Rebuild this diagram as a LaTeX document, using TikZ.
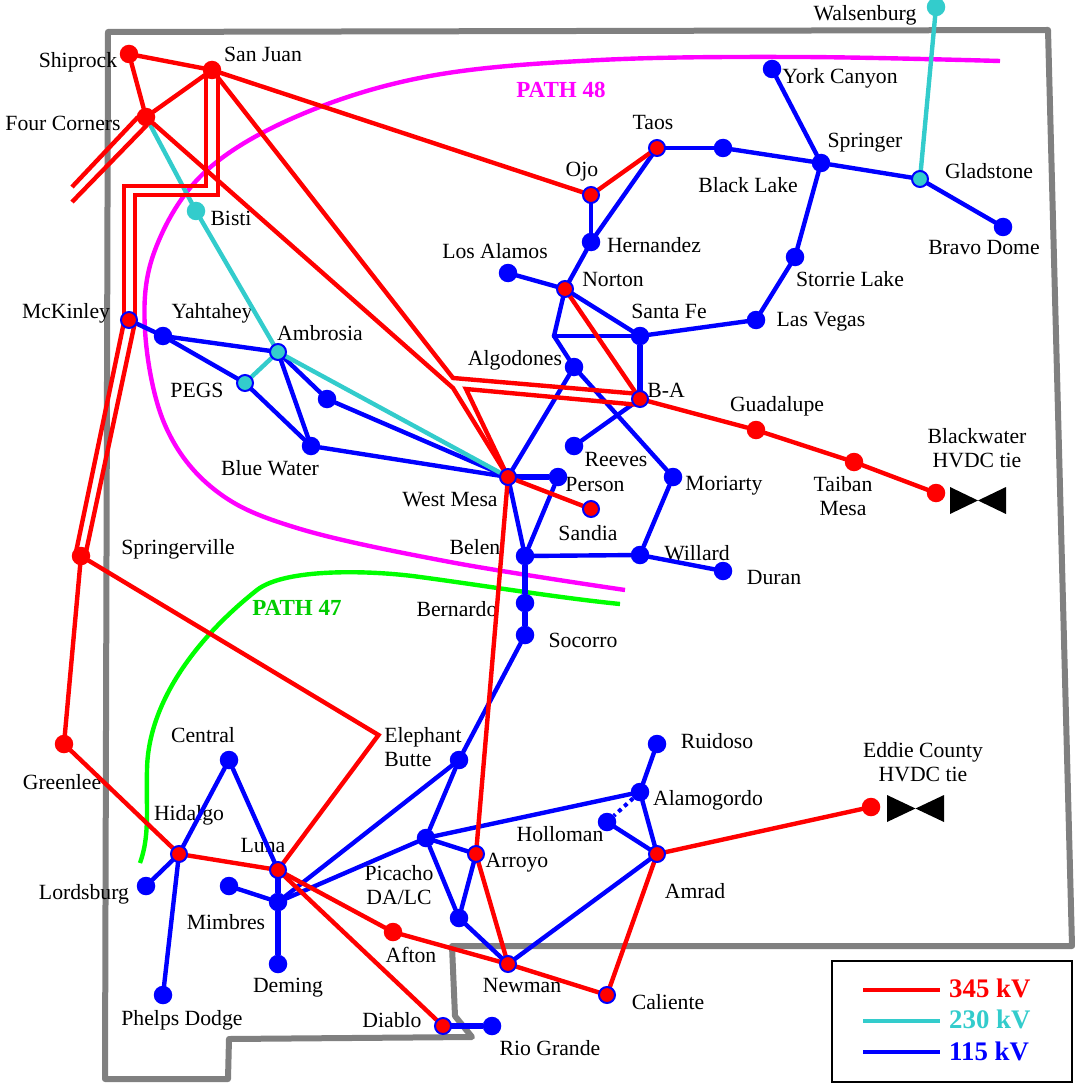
\documentclass[tikz,border=0pt]{standalone}
\usepackage{fontspec}
\setmainfont{Liberation Serif}
\pgfdeclarelayer{under}
\pgfdeclarelayer{labels}
\pgfdeclarelayer{edges}
\pgfsetlayers{under,labels,edges,main}
\definecolor{teal230}{RGB}{51,204,204}
\definecolor{bordergray}{RGB}{128,128,128}
\definecolor{pathmag}{RGB}{255,0,255}
\definecolor{pathgrn}{RGB}{0,255,0}
\definecolor{pathgrntxt}{RGB}{0,204,0}
\tikzset{
  x=1pt,y=-1pt,
  txt/.style={font=\fontsize{21.7}{24}\selectfont,text=black,inner sep=0pt,align=center},
  legtxt/.style={font=\fontsize{26.8}{28}\selectfont\bfseries,inner sep=0pt,anchor=west},
  pathtxt/.style={font=\fontsize{23}{25}\selectfont\bfseries,inner sep=0pt},
  st/.style={circle,inner sep=0pt,outer sep=0pt,minimum size=#1},
  rnode/.style={st=18.5pt,fill=red},
  bnode/.style={st=18.5pt,fill=blue},
  cnode/.style={st=18.5pt,fill=teal230},
  rbnode/.style={st=16pt,fill=red,draw=blue,line width=2pt},
  cbnode/.style={st=16pt,fill=teal230,draw=blue,line width=2pt},
  rl/.style={draw=red,line width=4.4pt,line cap=round,line join=miter},
  rfree/.style={draw=red,line width=4.4pt,line join=miter},
  tl/.style={draw=teal230,line width=4.4pt,line cap=round},
  bl/.style={draw=blue,line width=4.4pt,line cap=round,line join=round},
  blt/.style={draw=blue,line width=5.5pt},
  bdot/.style={draw=blue,line width=4pt,dash pattern=on 4pt off 4pt},
  border/.style={draw=bordergray,line width=6pt,line join=round},
  curveM/.style={draw=pathmag,line width=4.4pt},
  curveG/.style={draw=pathgrn,line width=4.4pt},
  bowtie/.style={fill=black,draw=none},
  legbox/.style={draw=black,line width=2pt,fill=white},
}
\begin{document}
\begin{tikzpicture}
\useasboundingbox (0,0) rectangle (1074,1083);

% stations
\node[rnode] (shiprock) at (129,54) {};
\node[rnode] (sanjuan) at (212,70) {};
\node[rnode] (fourc) at (146,117) {};
\node[cnode] (bisti) at (196,211) {};
\node[rbnode] (mckinley) at (129,320) {};
\node[bnode] (yahtahey) at (163,336) {};
\node[cbnode] (ambrosia) at (278,352) {};
\node[cbnode] (pegs) at (245,383) {};
\node[bnode] (unn) at (327,399) {};
\node[bnode] (bluewater) at (311,446) {};
\node[rbnode] (westmesa) at (508,477) {};
\node[bnode] (person) at (558,477) {};
\node[rbnode] (sandia) at (591,509) {};
\node[bnode] (belen) at (525,556) {};
\node[bnode] (bernardo) at (525,603) {};
\node[bnode] (socorro) at (525,635) {};
\node[rnode] (springerville) at (81,556) {};
\node[rnode] (greenlee) at (64,744) {};
\node[rbnode] (hidalgo) at (179,854) {};
\node[bnode] (lordsburg) at (146,886) {};
\node[bnode] (phelps) at (163,995) {};
\node[bnode] (central) at (229,760) {};
\node[rbnode] (luna) at (278,870) {};
\node[bnode] (mimbres) at (229,886) {};
\node[bnode] (mimjct) at (278,902) {};
\node[bnode] (deming) at (278,964) {};
\node[bnode] (elephant) at (459,760) {};
\node[bnode] (picacho) at (426,838) {};
\node[rbnode] (arroyo) at (476,854) {};
\node[bnode] (dalc) at (459,918) {};
\node[rnode] (afton) at (393,932) {};
\node[rbnode] (newman) at (508,964) {};
\node[rbnode] (caliente) at (607,995) {};
\node[rbnode] (diablo) at (443,1026) {};
\node[bnode] (riogrande) at (492,1026) {};
\node[rbnode] (amrad) at (657,854) {};
\node[bnode] (holloman) at (607,822) {};
\node[bnode] (alamogordo) at (640,792) {};
\node[bnode] (ruidoso) at (657,744) {};
\node[rnode] (eddie) at (871,807) {};
\node[rbnode] (ojo) at (591,195) {};
\node[rbnode] (taos) at (657,148) {};
\node[bnode] (blacklake) at (723,148) {};
\node[bnode] (springer) at (821,163) {};
\node[cbnode] (gladstone) at (920,179) {};
\node[bnode] (bravo) at (1003,227) {};
\node[bnode] (york) at (772,69) {};
\node[cnode] (walsenburg) at (936,7) {};
\node[bnode] (hernandez) at (591,242) {};
\node[bnode] (losalamos) at (508,273) {};
\node[rbnode] (norton) at (565,289) {};
\node[bnode] (santafe) at (640,336) {};
\node[bnode] (lasvegas) at (756,320) {};
\node[bnode] (storrie) at (795,257) {};
\node[bnode] (algodones) at (574,367) {};
\node[rbnode] (ba) at (640,399) {};
\node[bnode] (reeves) at (574,446) {};
\node[bnode] (moriarty) at (673,477) {};
\node[bnode] (willard) at (640,555) {};
\node[bnode] (duran) at (723,571) {};
\node[rnode] (guadalupe) at (756,430) {};
\node[rnode] (taiban) at (854,462) {};
\node[rnode] (blackwater) at (936,493) {};

% bends and free ends
\coordinate (sjL) at (206,70);
\coordinate (sjR) at (218,70);
\coordinate (b1) at (206,186);
\coordinate (b2) at (124,186);
\coordinate (b3) at (124,320);
\coordinate (b4) at (218,195);
\coordinate (b5) at (135,195);
\coordinate (b6) at (135,320);
\coordinate (mkL) at (124,322);
\coordinate (mkR) at (135,322);
\coordinate (spL) at (76,552);
\coordinate (spR) at (86,552);
\coordinate (fcA) at (72,187);
\coordinate (fcB) at (72,202);
\coordinate (fcC) at (147,125);
\coordinate (fcD) at (138,117);
\coordinate (ebend) at (378.5,735);
\coordinate (wmTop) at (453,378);
\coordinate (wmMid) at (453,388);
\coordinate (wmIn) at (466,389);
\coordinate (baA) at (640,394);
\coordinate (baB) at (640,405);
\coordinate (jct) at (554,336);

\begin{pgfonlayer}{under}
\draw[border] (108,32) -- (1048,30) -- (1072,946) -- (452,946) -- (455,1016) -- (472,1037) -- (229,1039) -- (228,1079) -- (105,1079) -- cycle;
\draw[curveM] plot[smooth,tension=0.6] coordinates {(1000,61) (800,57) (600,60) (430,76) (300,115) (205,172) (155,250) (145,330) (165,425) (215,490) (297,528) (450,562) (625,590)};
\draw[curveG] (140,863) .. controls (150,835) and (146,810) .. (147,770) .. controls (148,700) and (200,635) .. (257,590) .. controls (285,568) and (370,570) .. (420,577) .. controls (480,585) and (560,598) .. (620,604);
\end{pgfonlayer}

\begin{pgfonlayer}{labels}
\node[txt] (lWalsenburg) at (865,15) {Walsenburg};
\node[txt] (lYork) at (840,78) {York Canyon};
\node[txt] (lSpringer) at (865,143) {Springer};
\node[txt] (lTaos) at (653,123) {Taos};
\node[txt] (lOjo) at (582,172) {Ojo};
\node[txt] (lBlackLake) at (748,185) {Black Lake};
\node[txt] (lGladstone) at (989,171) {Gladstone};
\node[txt] (lBravo) at (984,248) {Bravo Dome};
\node[txt] (lHernandez) at (654,245) {Hernandez};
\node[txt] (lLosAlamos) at (495,251) {Los Alamos};
\node[txt] (lNorton) at (613,280) {Norton};
\node[txt] (lSantaFe) at (669,311) {Santa Fe};
\node[txt] (lStorrie) at (850,279) {Storrie Lake};
\node[txt] (lLasVegas) at (821,322) {Las Vegas};
\node[txt] (lAlgodones) at (515,360) {Algodones};
\node[txt] (lBA) at (666,390) {B-A};
\node[txt] (lGuadalupe) at (777,406) {Guadalupe};
\node[txt] (lBlackwater) at (977,448) {Blackwater\\HVDC tie};
\node[txt] (lReeves) at (616,459) {Reeves};
\node[txt] (lTaiban) at (843,496) {Taiban\\Mesa};
\node[txt] (lMoriarty) at (724,486) {Moriarty};
\node[txt] (lPerson) at (595,484) {Person};
\node[txt] (lWestMesa) at (450,500) {West Mesa};
\node[txt] (lSandia) at (588,533) {Sandia};
\node[txt] (lBelen) at (475,547) {Belen};
\node[txt] (lWillard) at (697,553) {Willard};
\node[txt] (lDuran) at (774,577) {Duran};
\node[txt] (lBernardo) at (457,609) {Bernardo};
\node[txt] (lSocorro) at (583,640) {Socorro};
\node[txt] (lSpringerville) at (178,549) {Springerville};
\node[txt] (lMcKinley) at (66,313) {McKinley};
\node[txt] (lYahtahey) at (212,313) {Yahtahey};
\node[txt] (lAmbrosia) at (320,333) {Ambrosia};
\node[txt] (lPEGS) at (197,390) {PEGS};
\node[txt] (lBlueWater) at (270,468) {Blue Water};
\node[txt] (lShiprock) at (78,62) {Shiprock};
\node[txt] (lSanJuan) at (263,54) {San Juan};
\node[txt] (lFourC) at (63,123) {Four Corners};
\node[txt] (lBisti) at (231,218) {Bisti};
\node[txt] (lCentral) at (203,735) {Central};
\node[txt,align=left] (lElephant) at (423,747) {Elephant\\Butte};
\node[txt] (lRuidoso) at (717,741) {Ruidoso};
\node[txt] (lAlamogordo) at (708,800) {Alamogordo};
\node[txt] (lHolloman) at (560,834) {Holloman};
\node[txt] (lArroyo) at (517,863) {Arroyo};
\node[txt] (lAmrad) at (695,891) {Amrad};
\node[txt] (lPicacho) at (399,885) {Picacho\\DA/LC};
\node[txt] (lHidalgo) at (189,815) {Hidalgo};
\node[txt] (lLuna) at (263,845) {Luna};
\node[txt] (lLordsburg) at (84,894) {Lordsburg};
\node[txt] (lGreenlee) at (62,782) {Greenlee};
\node[txt] (lMimbres) at (226,922) {Mimbres};
\node[txt] (lDeming) at (288,988) {Deming};
\node[txt] (lPhelps) at (182,1020) {Phelps Dodge};
\node[txt] (lAfton) at (411,955) {Afton};
\node[txt] (lNewman) at (522,985) {Newman};
\node[txt] (lCaliente) at (668,1002) {Caliente};
\node[txt] (lDiablo) at (392,1020) {Diablo};
\node[txt] (lRioGrande) at (550,1048) {Rio Grande};
\node[txt] (lEddie) at (923,762) {Eddie County\\HVDC tie};
\node[pathtxt,text=pathmag] (lP48) at (561,90) {PATH 48};
\node[pathtxt,text=pathgrntxt] (lP47) at (297,608) {PATH 47};
\end{pgfonlayer}

\begin{pgfonlayer}{edges}
% 115 kV
\draw[bl] (mckinley) -- (yahtahey);
\draw[bl] (yahtahey) -- (ambrosia);
\draw[bl] (yahtahey) -- (pegs);
\draw[bl] (pegs) -- (bluewater);
\draw[bl] (ambrosia) -- (bluewater);
\draw[bl] (ambrosia) -- (unn);
\draw[bl] (unn) -- (westmesa);
\draw[bl] (bluewater) -- (westmesa);
\draw[blt] (westmesa) -- (person);
\draw[bl] (person) -- (belen);
\draw[bl] (westmesa) -- (belen);
\draw[bl] (westmesa) -- (algodones);
\draw[bl] (algodones) -- (jct);
\draw[bl] (jct) -- (norton);
\draw[bl] (jct) -- (santafe);
\draw[bl] (algodones) -- (moriarty);
\draw[bl] (moriarty) -- (willard);
\draw[bl] (willard) -- (belen);
\draw[bl] (willard) -- (duran);
\draw[blt] (belen) -- (bernardo);
\draw[blt] (bernardo) -- (socorro);
\draw[bl] (socorro) -- (elephant);
\draw[bl] (elephant) -- (picacho);
\draw[bl] (elephant) -- (mimjct);
\draw[bl] (picacho) -- (mimjct);
\draw[bl] (picacho) -- (alamogordo);
\draw[bl] (picacho) -- (arroyo);
\draw[bl] (picacho) -- (dalc);
\draw[bl] (dalc) -- (arroyo);
\draw[bl] (dalc) -- (newman);
\draw[bl] (newman) -- (amrad);
\draw[bl] (amrad) -- (holloman);
\draw[bl] (amrad) -- (alamogordo);
\draw[bl] (alamogordo) -- (ruidoso);
\draw[bdot] (alamogordo) -- (holloman);
\draw[bl] (hidalgo) -- (lordsburg);
\draw[bl] (hidalgo) -- (phelps);
\draw[bl] (hidalgo) -- (central);
\draw[bl] (central) -- (luna);
\draw[blt] (luna) -- (mimjct);
\draw[bl] (mimjct) -- (mimbres);
\draw[blt] (mimjct) -- (deming);
\draw[blt] (diablo) -- (riogrande);
\draw[bl] (losalamos) -- (norton);
\draw[bl] (norton) -- (hernandez);
\draw[bl] (norton) -- (santafe);
\draw[bl] (hernandez) -- (ojo);
\draw[bl] (hernandez) -- (taos);
\draw[bl] (taos) -- (blacklake);
\draw[bl] (blacklake) -- (springer);
\draw[bl] (springer) -- (gladstone);
\draw[bl] (gladstone) -- (bravo);
\draw[bl] (springer) -- (york);
\draw[bl] (springer) -- (storrie);
\draw[bl] (storrie) -- (lasvegas);
\draw[bl] (lasvegas) -- (santafe);
\draw[blt] (santafe) -- (ba);
\draw[bl] (ba) -- (reeves);
% 230 kV
\draw[tl] (fourc) -- (bisti);
\draw[tl] (bisti) -- (ambrosia);
\draw[tl] (ambrosia) -- (westmesa);
\draw[tl] (ambrosia) -- (pegs);
\draw[tl] (gladstone) -- (walsenburg);
% 345 kV
\draw[rl] (shiprock) -- (sanjuan);
\draw[rl] (shiprock) -- (fourc);
\draw[rl] (fourc) -- (sanjuan);
\draw[rl] (sanjuan) -- (ojo);
\draw[rl] (ojo) -- (taos);
\draw[rfree] (fcD) -- (fcA);
\draw[rfree] (fcC) -- (fcB);
\draw[rfree] (sjL) -- (b1) -- (b2) -- (b3);
\draw[rfree] (sjR) -- (b4) -- (b5) -- (b6);
\draw[rfree] (mkL) -- (spL);
\draw[rfree] (mkR) -- (spR);
\draw[rl] (springerville) -- (greenlee);
\draw[rl] (springerville) -- (ebend) -- (luna);
\draw[rl] (greenlee) -- (hidalgo);
\draw[rl] (hidalgo) -- (luna);
\draw[rl] (luna) -- (afton);
\draw[rl] (afton) -- (newman);
\draw[rl] (newman) -- (caliente);
\draw[rl] (caliente) -- (amrad);
\draw[rl] (amrad) -- (eddie);
\draw[rl] (luna) -- (diablo);
\draw[rl] (westmesa) -- (arroyo);
\draw[rl] (arroyo) -- (newman);
\draw[rl] (westmesa) -- (sandia);
\draw[rl] (norton) -- (ba);
\draw[rl] (ba) -- (guadalupe);
\draw[rl] (guadalupe) -- (taiban);
\draw[rl] (taiban) -- (blackwater);
\draw[rl] (sanjuan) -- (wmTop) -- (baA);
\draw[rl] (fourc) -- (wmMid) -- (westmesa);
\draw[rl] (westmesa) -- (wmIn) -- (baB);
\end{pgfonlayer}

% HVDC bow ties
\fill[bowtie] (950,487) -- (1006,514) -- (1006,487) -- (950,514) -- cycle;
\fill[bowtie] (887,795) -- (944,822) -- (944,795) -- (887,822) -- cycle;

% legend
\node[legbox,minimum width=240pt,minimum height=121pt,inner sep=0pt] (legend) at (951.5,1021) {};
\coordinate (l1a) at (863,990);
\coordinate (l1b) at (940,990);
\coordinate (l2a) at (863,1021);
\coordinate (l2b) at (940,1021);
\coordinate (l3a) at (863,1052);
\coordinate (l3b) at (940,1052);
\draw[draw=red,line width=4pt] (l1a) -- (l1b);
\draw[draw=teal230,line width=4pt] (l2a) -- (l2b);
\draw[draw=blue,line width=4pt] (l3a) -- (l3b);
\node[legtxt,text=red] (t345) at (949,988) {345 kV};
\node[legtxt,text=teal230] (t230) at (949,1019) {230 kV};
\node[legtxt,text=blue] (t115) at (949,1051) {115 kV};
\end{tikzpicture}
\end{document}
